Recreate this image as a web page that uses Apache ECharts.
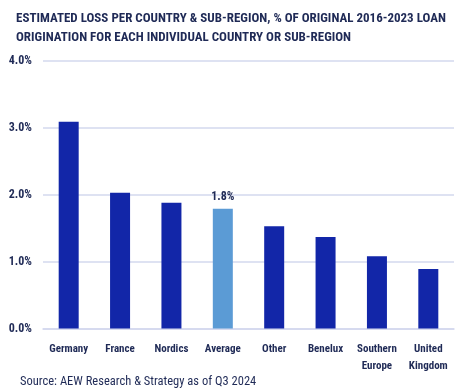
<!DOCTYPE html>
<html><head><meta charset="utf-8">
<script src="https://cdn.jsdelivr.net/npm/echarts@6/dist/echarts.min.js"></script>
<style>html,body{margin:0;padding:0;background:#fff}#c{width:467px;height:390px}</style>
</head><body><div id="c"></div>
<script>
const categories = ['Germany','France','Nordics','Average','Other','Benelux','Southern\nEurope','United\nKingdom'];
const values = [3.09, 2.03, 1.88, 1.79, 1.53, 1.37, 1.08, 0.89];
const highlightIndex = 3;
const yTicks = [0, 1, 2, 3, 4];
const titleText = 'ESTIMATED LOSS PER COUNTRY & SUB-REGION, % OF ORIGINAL 2016-2023 LOAN\nORIGINATION FOR EACH INDIVIDUAL COUNTRY OR SUB-REGION';
const sourceText = 'Source: AEW Research & Strategy as of Q3 2024';

const FONT = '"Roboto Condensed", "Liberation Sans Narrow", sans-serif';
const TXT = '#1f2a56';
const chart = echarts.init(document.getElementById('c'));
chart.setOption({
  animation: false,
  title: [{
    text: titleText, left: 11, top: 4,
    textStyle: {fontFamily: FONT, fontWeight: 'bold', fontSize: 13, color: TXT, lineHeight: 19}
  }, {
    text: sourceText, left: 15, top: 370,
    textStyle: {fontFamily: FONT, fontWeight: 'normal', fontSize: 12.5, color: TXT}
  }],
  grid: {left: 43, right: 13, top: 61, bottom: 61.5},
  xAxis: {
    type: 'category', data: categories,
    axisLine: {show: true, lineStyle: {color: '#d3d8ee', width: 1.5}},
    axisTick: {show: false},
    axisLabel: {fontFamily: FONT, fontWeight: 'bold', fontSize: 11, color: TXT, margin: 12, lineHeight: 17, interval: 0}
  },
  yAxis: {
    type: 'value', min: yTicks[0], max: yTicks[yTicks.length-1], interval: 1,
    axisLine: {show: false}, axisTick: {show: false},
    splitLine: {lineStyle: {color: '#d3d8ee', width: 1.5}},
    axisLabel: {fontFamily: FONT, fontWeight: 'bold', fontSize: 12, color: TXT, margin: 11,
      formatter: v => v.toFixed(1) + '%'}
  },
  series: [{
    type: 'bar', barWidth: 20,
    data: values.map((v, i) => ({
      value: v,
      itemStyle: {color: i === highlightIndex ? '#5b9bd5' : '#1226a8'},
      label: i === highlightIndex ? {show: true, position: 'top', distance: 6,
        formatter: p => p.value.toFixed(1) + '%',
        fontFamily: FONT, fontWeight: 'bold', fontSize: 12, color: TXT} : {show: false}
    }))
  }]
});
</script></body></html>
